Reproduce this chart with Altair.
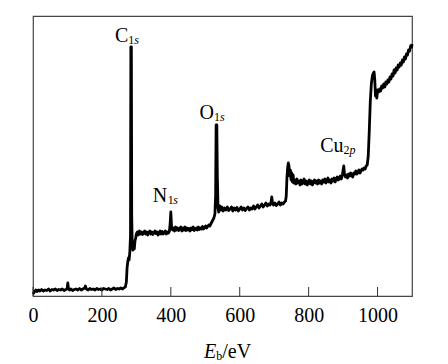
import altair as alt
import pandas as pd

# ---- spectrum (binding energy in eV, intensity in arbitrary units) ----
e_base = [0, 4, 8, 12, 16, 20, 25, 30, 35, 40, 45, 50, 55, 60, 65, 70, 75, 80, 85, 90, 95,
          99, 101, 103, 106, 110, 115, 120, 125, 130, 135, 140, 145, 150, 152, 155,
          160, 165, 170, 175, 180, 185, 190, 195, 200, 205, 210, 215, 220, 225, 230, 235,
          240, 245, 250, 255, 260, 265, 268]
i_base = [2, 4, 6, 4.5, 6, 5, 6.5, 5, 6, 5.5, 7, 5, 6.5, 6, 7, 5.5, 6.5, 6, 7, 5.5, 6.5,
          7, 13, 7, 6, 7, 5.5, 6.5, 7, 6, 7.5, 6, 7, 8, 10, 7,
          6, 7.5, 6.5, 7, 6, 7.5, 6.5, 7, 6, 7.5, 7, 6.5, 7.5, 6, 7, 8,
          6.5, 7.5, 7, 8, 7, 8.5, 9]

e_c1s = [271, 273, 275, 277, 279, 281, 283, 284, 285.5, 286.5, 288, 290, 292, 294, 296, 298, 300]
i_c1s = [14, 28, 34, 38, 36, 44, 60, 249, 249, 80, 52, 46, 49, 47, 55, 58, 62]

e_p1 = [303, 306, 309, 312, 315, 318, 321, 324, 327, 330, 333, 336, 339, 342, 345, 348,
        351, 354, 357, 360, 363, 366, 369, 372, 375, 378, 381, 384, 387, 390, 393, 396]
i_p1 = [64, 61, 65, 62, 64, 61.5, 63, 65, 62, 64, 61, 63.5, 65, 62, 64, 61.5,
        63, 65, 62.5, 64, 61, 63, 65, 62, 64.5, 62, 63.5, 65, 62, 64, 63, 65]

e_n1s = [398, 400, 402, 405, 408, 411, 414, 417, 420, 423, 426, 429, 432, 435, 438, 441,
         444, 447, 450, 453, 456, 459, 462, 465, 468, 471, 474, 477, 480, 483, 486, 489,
         492, 495, 498, 501, 504, 507, 510, 513, 516, 519]
i_n1s = [72, 84, 70, 66, 68, 65, 69, 66, 68, 65.5, 67, 69, 65, 68, 66, 69,
         65.5, 68, 66, 67.5, 65, 68, 66.5, 69, 65.5, 67, 68, 66, 69, 66.5, 68, 67,
         69.5, 67, 68.5, 70, 68, 69.5, 71, 70, 72, 74]

e_o1s = [522, 525, 528, 530, 531.5, 533.5, 535, 537, 539, 542, 545]
i_o1s = [76, 78, 82, 100, 171, 171, 120, 88, 84, 90, 86]

e_p2 = [548, 552, 556, 560, 564, 568, 572, 576, 580, 584, 588, 592, 596, 600, 604, 608,
        612, 616, 620, 624, 628, 632, 636, 640, 644, 648, 652, 656, 660, 664, 668, 672,
        676, 680, 684, 688, 691, 693, 695, 698, 702, 706, 710, 714, 718, 722, 726, 730, 733]
i_p2 = [89, 85, 88, 86, 89, 85.5, 87, 89, 85, 88, 86, 88.5, 85, 87, 89, 86,
        88, 85.5, 87.5, 89, 86, 88, 87, 90, 87, 89, 91, 88, 90, 92, 89, 91,
        93, 90, 92, 91, 94, 99, 93, 91, 93, 90.5, 92, 94, 91, 93, 92, 94, 95]

e_p3 = [735, 737, 739, 741, 743, 745, 747, 749, 751, 753, 755, 757,
        760, 763, 766, 769, 772, 775, 778, 781, 784, 787, 790, 793, 796, 799, 802, 805,
        808, 811, 814, 817, 820, 823, 826, 829, 832, 835, 838, 841, 844, 847, 850, 853,
        856, 859, 862, 865, 868, 871, 874, 877, 880, 883, 886, 889, 892, 895, 898,
        900, 902, 904,
        907, 910, 913, 916, 919, 922, 925, 928, 931, 934, 937, 940, 943, 946, 949, 952,
        955, 958, 961, 964, 967, 970]
i_p3 = [100, 118, 128, 133, 130, 120, 126, 116, 123, 114, 121, 113,
        116, 112, 117, 113, 115, 111, 116, 112, 114, 117, 112, 115, 111, 114, 116, 112,
        115, 111, 114, 116, 113, 115, 112, 116, 113, 115, 112, 116, 114, 117, 113, 115,
        118, 114, 116, 113, 117, 115, 118, 114, 117, 119, 116, 118, 120, 117, 121,
        126, 130, 122,
        119, 121, 118, 122, 120, 123, 121, 119, 123, 122, 125, 122, 124, 126, 123, 125,
        127, 126, 128, 127, 130, 131]

e_cu = [973, 976, 979, 982, 985, 988, 990, 992, 994, 996, 998, 1000,
        1003, 1006, 1009, 1012, 1015, 1018, 1021, 1024, 1027, 1030,
        1033, 1036, 1039, 1042, 1045, 1048, 1051, 1054, 1057, 1060,
        1063, 1066, 1069, 1072, 1075, 1078, 1081, 1084, 1087, 1090,
        1093, 1096, 1099, 1100]
i_cu = [140, 165, 195, 212, 220, 223, 224, 216, 200, 205, 198, 206,
        204, 207, 205, 210, 208, 212, 209, 214, 212, 216,
        214, 219, 217, 222, 220, 226, 223, 228, 226, 231,
        229, 233, 231, 236, 234, 239, 237, 242, 241, 246,
        245, 250, 249, 252]

energy = e_base + e_c1s + e_p1 + e_n1s + e_o1s + e_p2 + e_p3 + e_cu
intensity = i_base + i_c1s + i_p1 + i_n1s + i_o1s + i_p2 + i_p3 + i_cu
assert len(energy) == len(intensity)

tick_values = [0, 200, 400, 600, 800, 1000]

# peak labels: main symbol, subscript number, italic subscript letter
lab_main = ["C", "N", "O", "Cu"]
lab_main_e = [238.2, 347.7, 483.6, 833.6]
lab_main_i = [254, 94, 177.5, 144.3]
lab_num = ["1", "1", "1", "2"]
lab_num_e = [276.8, 390.8, 525.4, 901.2]
lab_let = ["s", "s", "s", "p"]
lab_let_e = [294.2, 406.9, 542.8, 918.7]
lab_sub_i = [252, 92, 175.5, 142.3]

FONT = "Liberation Serif"
W, H = 379, 280

xscale = alt.Scale(domain=[0, 1100], nice=False, zero=False)
yscale = alt.Scale(domain=[0, 280], nice=False)
xaxis = alt.Axis(values=tick_values, ticks=False, domain=False, grid=False, format="d",
                 labelFont=FONT, labelFontSize=20, labelColor="black",
                 labelPadding=9, labelFlush=False, title=None)

df = pd.DataFrame({"E": energy, "I": intensity})

line = alt.Chart(df).mark_line(color="black", strokeWidth=2.8, strokeJoin="round").encode(
    x=alt.X("E:Q", scale=xscale, axis=xaxis),
    y=alt.Y("I:Q", scale=yscale, axis=None),
)

ticks = alt.Chart(pd.DataFrame({"E": tick_values})).mark_rule(
    color="#333", strokeWidth=1).encode(
    x=alt.X("E:Q", scale=xscale, axis=xaxis),
    y=alt.value(H), y2=alt.value(H - 9),
)

main_df = pd.DataFrame({"E": lab_main_e, "I": lab_main_i, "t": lab_main})
num_df = pd.DataFrame({"E": lab_num_e, "I": lab_sub_i, "t": lab_num})
let_df = pd.DataFrame({"E": lab_let_e, "I": lab_sub_i, "t": lab_let})

def txt(d, size, style="normal"):
    return alt.Chart(d).mark_text(
        align="left", baseline="alphabetic", font=FONT, fontSize=size,
        fontStyle=style, color="black").encode(
        x=alt.X("E:Q", scale=xscale, axis=xaxis),
        y=alt.Y("I:Q", scale=yscale, axis=None),
        text="t:N",
    )

t_main = txt(main_df, 20)
t_num = txt(num_df, 12)
t_let = txt(let_df, 12, "italic")

# axis title  E_b/eV
title_df = pd.DataFrame({"a": [0]})
tE = alt.Chart(title_df).mark_text(align="left", baseline="alphabetic", font=FONT,
                                   fontSize=20, fontStyle="italic", color="black",
                                   text="E").encode(x=alt.value(171), y=alt.value(342))
tb = alt.Chart(title_df).mark_text(align="left", baseline="alphabetic", font=FONT,
                                   fontSize=12, color="black",
                                   text="b").encode(x=alt.value(183.2), y=alt.value(344))
teV = alt.Chart(title_df).mark_text(align="left", baseline="alphabetic", font=FONT,
                                    fontSize=20, color="black",
                                    text="/eV").encode(x=alt.value(189.2), y=alt.value(342))

chart = alt.layer(line, ticks, t_main, t_num, t_let, tE, tb, teV).properties(
    width=W, height=H,
    padding={"left": 20, "top": 8, "right": 5, "bottom": 0},
).configure_view(stroke="#444", strokeWidth=1.2)

chart.save("out.html", embed_options={"renderer": "svg", "actions": False})
